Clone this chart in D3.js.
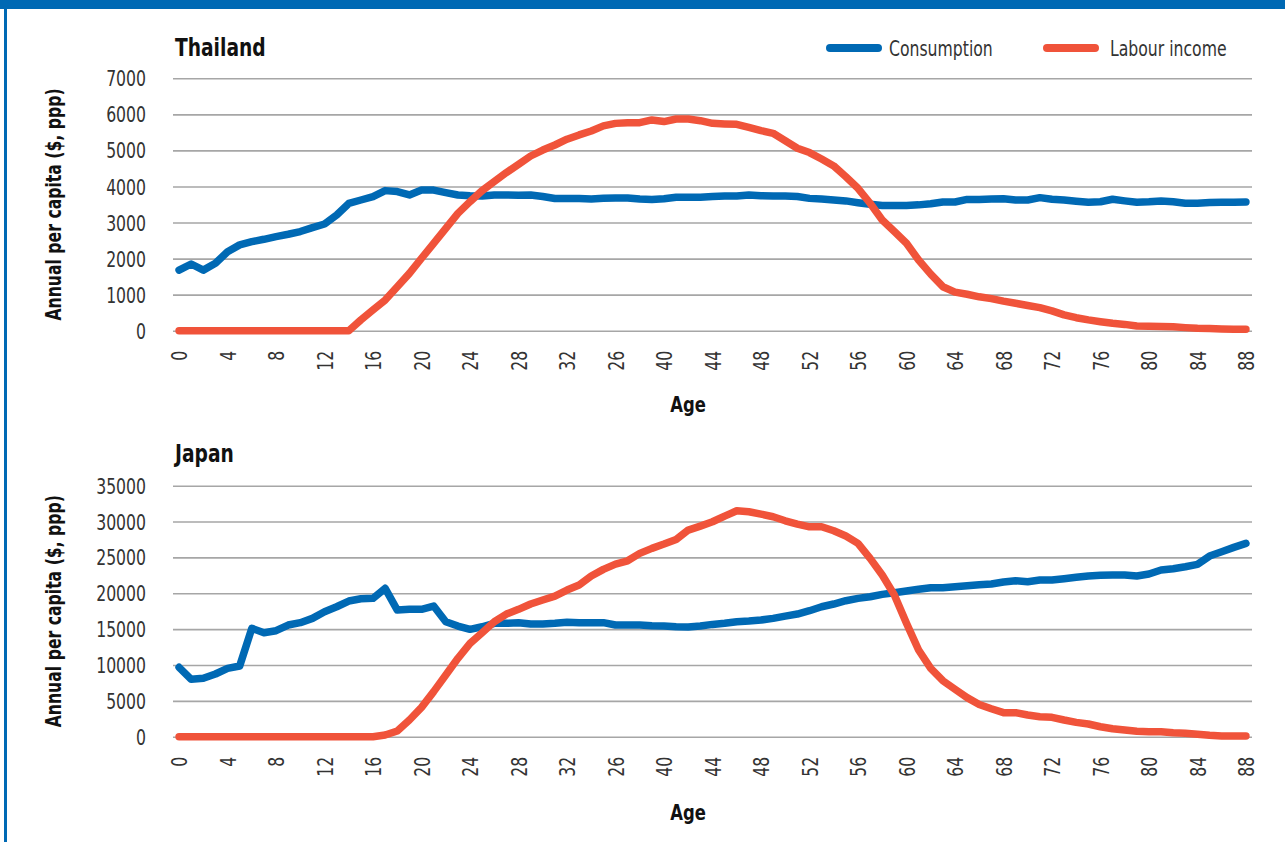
<!DOCTYPE html>
<html>
<head>
<meta charset="utf-8">
<script src="https://cdn.jsdelivr.net/npm/d3@7"></script>
<style>
  body { margin: 0; background: #fff; }
  svg { display: block; }
  .tick-label { font-family: "Liberation Sans Narrow", "DejaVu Sans Condensed", sans-serif; font-size: 21px; fill: #333; }
  .title { font-family: "Liberation Sans Narrow", "DejaVu Sans Condensed", sans-serif; font-weight: bold; fill: #111; }
</style>
</head>
<body>
<div id="chart"></div>
<script>
// ── Data: ages 0..88 ──
const ages = d3.range(0, 89);
const xTickLabels = ['0','4','8','12','16','20','24','28','32','26','40','44','48','52','56','60','64','68','72','76','80','84','88'];
const thaiTicks = [0, 1000, 2000, 3000, 4000, 5000, 6000, 7000];
const japanTicks = [0, 5000, 10000, 15000, 20000, 25000, 30000, 35000];
const seriesNames = ['Consumption', 'Labour income'];

const thaiConsumption = [
  1680, 1850, 1680, 1870, 2190, 2380, 2470, 2535, 2610, 2675,
  2750, 2860, 2960, 3210, 3530, 3625, 3720, 3885, 3860, 3765,
  3900, 3900, 3830, 3765, 3745, 3735, 3765, 3765, 3755, 3765,
  3720, 3665, 3665, 3665, 3655, 3670, 3680, 3680, 3650, 3640,
  3660, 3700, 3700, 3700, 3720, 3735, 3735, 3765, 3745, 3735,
  3735, 3720, 3670, 3650, 3625, 3600, 3550, 3505, 3475, 3470,
  3470, 3490, 3520, 3570, 3570, 3640, 3640, 3650, 3660, 3625,
  3625, 3690, 3645, 3625, 3590, 3560, 3575, 3645, 3600, 3560,
  3575, 3600, 3575, 3535, 3535, 3555, 3560, 3560, 3570
];
const thaiLabour = [
  0, 0, 0, 0, 0, 0, 0, 0, 0, 0,
  0, 0, 0, 0, 0, 300, 575, 850, 1220, 1590,
  2010, 2420, 2840, 3255, 3580, 3885, 4135, 4385, 4615, 4845,
  5010, 5150, 5310, 5430, 5540, 5680, 5750, 5770, 5770, 5845,
  5800, 5870, 5870, 5825, 5750, 5735, 5725, 5640, 5550, 5475,
  5270, 5060, 4940, 4760, 4570, 4270, 3950, 3535, 3070, 2750,
  2425, 1960, 1570, 1220, 1070, 1010, 940, 890, 820, 760,
  700, 640, 550, 440, 360, 300, 250, 205, 175, 130,
  120, 115, 110, 85, 65, 60, 50, 40, 40
];
const japanConsumption = [
  9670, 8000, 8140, 8740, 9530, 9860, 15110, 14500, 14780, 15570,
  15900, 16500, 17430, 18120, 18920, 19240, 19290, 20690, 17660, 17760,
  17760, 18220, 16030, 15430, 14970, 15330, 15810, 15810, 15890, 15710,
  15710, 15810, 15950, 15890, 15900, 15900, 15570, 15570, 15570, 15480,
  15430, 15340, 15290, 15430, 15660, 15810, 16030, 16130, 16270, 16500,
  16820, 17100, 17570, 18120, 18500, 18960, 19290, 19520, 19850, 20070,
  20310, 20550, 20770, 20770, 20910, 21050, 21200, 21300, 21570, 21750,
  21610, 21840, 21840, 22030, 22220, 22400, 22500, 22540, 22540, 22400,
  22680, 23240, 23420, 23700, 24030, 25190, 25790, 26400, 26960
];
const japanLabour = [
  0, 0, 0, 0, 0, 0, 0, 0, 0, 0,
  0, 0, 0, 0, 0, 0, 0, 230, 790, 2330,
  4090, 6280, 8600, 10930, 13020, 14500, 16030, 17100, 17760, 18500,
  19060, 19610, 20450, 21150, 22400, 23330, 24070, 24530, 25560, 26260,
  26860, 27510, 28810, 29370, 29970, 30760, 31500, 31360, 31040, 30670,
  30110, 29650, 29270, 29270, 28710, 27980, 26960, 24870, 22540, 19750,
  15810, 12090, 9530, 7810, 6610, 5450, 4500, 3900, 3350, 3350,
  3030, 2790, 2700, 2330, 2000, 1770, 1390, 1110, 930, 750,
  700, 700, 560, 470, 330, 190, 100, 100, 100
];

const COLORS = { consumption: '#0069b4', labour: '#f0533a', frame: '#0069b4', grid: '#a6a6a6' };
const W = 1285, H = 842;
const plotLeft = 173, plotRight = 1252;
const NARROW = 'scale(0.83,1)';   // no condensed face installed, squeeze DejaVu instead

const svg = d3.select('#chart').append('svg')
  .attr('width', W)
  .attr('height', H);

// Frame: top band and left rule
svg.append('rect').attr('x', 0).attr('y', 0).attr('width', W).attr('height', 9).attr('fill', COLORS.frame);
svg.append('rect').attr('x', 4).attr('y', 0).attr('width', 3).attr('height', H).attr('fill', COLORS.frame);

const x = d3.scalePoint()
  .domain(ages)
  .range([plotLeft, plotRight])
  .padding(0.5);

const panels = [
  { title: 'Thailand', titleY: 56, top: 78.3, bottom: 330.7, ticks: thaiTicks, cons: thaiConsumption, lab: thaiLabour, ageY: 412 },
  { title: 'Japan', titleY: 462, top: 485.7, bottom: 736.7, ticks: japanTicks, cons: japanConsumption, lab: japanLabour, ageY: 820 }
];

panels.forEach(p => {
  const y = d3.scaleLinear()
    .domain([0, d3.max(p.ticks)])
    .range([p.bottom, p.top]);

  const g = svg.append('g');

  // Gridlines
  g.append('g')
    .attr('transform', `translate(${plotLeft},0)`)
    .call(d3.axisLeft(y).tickValues(p.ticks).tickSize(-(plotRight - plotLeft)).tickFormat(''))
    .call(s => s.select('.domain').remove())
    .call(s => s.selectAll('line').attr('stroke', COLORS.grid).attr('stroke-width', 1.6));

  // Y tick labels
  g.append('g')
    .attr('transform', 'translate(146,0)')
    .call(d3.axisLeft(y).tickValues(p.ticks).tickSize(0).tickPadding(0).tickFormat(d3.format('d')))
    .call(s => s.select('.domain').remove())
    .call(s => s.selectAll('text')
      .attr('class', 'tick-label')
      .attr('x', 0)
      .attr('dy', '0.36em')
      .attr('transform', NARROW));

  // X tick labels (rotated)
  const xTickVals = ages.filter(a => a % 4 === 0);
  g.append('g')
    .attr('transform', `translate(0,${p.bottom + 20})`)
    .call(d3.axisBottom(x).tickValues(xTickVals).tickSize(0).tickPadding(0)
      .tickFormat((d, i) => xTickLabels[i]))
    .call(s => s.select('.domain').remove())
    .call(s => s.selectAll('text')
      .attr('class', 'tick-label')
      .attr('transform', 'rotate(-90) ' + NARROW)
      .attr('text-anchor', 'end')
      .attr('x', 0)
      .attr('y', 0)
      .attr('dy', '0.36em'));

  // Panel title
  g.append('text')
    .attr('class', 'title')
    .attr('transform', `translate(175,${p.titleY}) ${NARROW}`)
    .style('font-size', '25px')
    .text(p.title);

  // Y axis title
  g.append('text')
    .attr('class', 'title')
    .attr('transform', `translate(61,${(p.top + p.bottom) / 2}) rotate(-90) ${NARROW}`)
    .attr('text-anchor', 'middle')
    .style('font-size', '21px')
    .text('Annual per capita ($, ppp)');

  // X axis title
  g.append('text')
    .attr('class', 'title')
    .attr('transform', `translate(688,${p.ageY}) ${NARROW}`)
    .attr('text-anchor', 'middle')
    .style('font-size', '22px')
    .text('Age');

  // Lines
  const line = d3.line()
    .x((d, i) => x(ages[i]))
    .y(d => y(d));

  [[p.cons, COLORS.consumption], [p.lab, COLORS.labour]].forEach(([vals, color]) => {
    g.append('path')
      .datum(vals)
      .attr('d', line)
      .attr('fill', 'none')
      .attr('stroke', color)
      .attr('stroke-width', 7.5)
      .attr('stroke-linejoin', 'round')
      .attr('stroke-linecap', 'round');
  });
});

// Legend
const legendItems = [
  { name: seriesNames[0], color: COLORS.consumption, x: 830, textX: 889 },
  { name: seriesNames[1], color: COLORS.labour, x: 1047, textX: 1110 }
];
const legend = svg.append('g');
legendItems.forEach(item => {
  legend.append('line')
    .attr('x1', item.x).attr('x2', item.x + 48)
    .attr('y1', 48).attr('y2', 48)
    .attr('stroke', item.color)
    .attr('stroke-width', 8)
    .attr('stroke-linecap', 'round');
  legend.append('text')
    .attr('class', 'tick-label')
    .attr('transform', `translate(${item.textX},56) ${NARROW}`)
    .text(item.name);
});
</script>
</body>
</html>
